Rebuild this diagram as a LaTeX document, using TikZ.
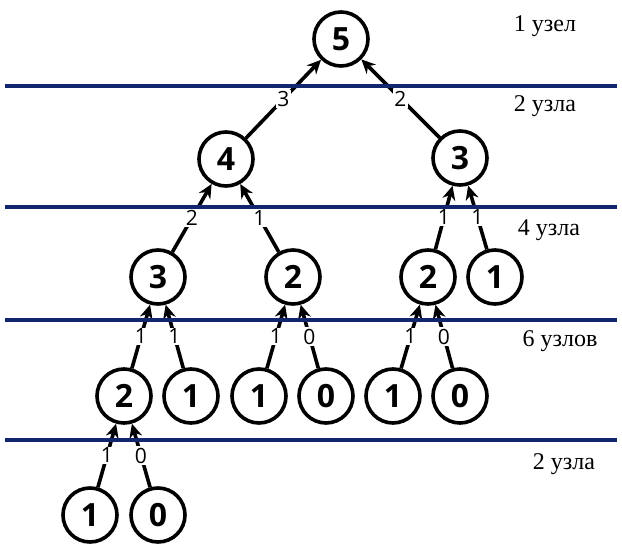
\documentclass[tikz,border=0pt]{standalone}
\usepackage{fontspec}
\setmainfont{Liberation Serif}
\setsansfont{Open Sans}
\usetikzlibrary{arrows.meta}
\definecolor{levelblue}{RGB}{18,38,110}

\begin{document}
\begin{tikzpicture}[x=1pt,y=-1pt,>={Stealth[length=14pt,width=13pt]},
	vert/.style={circle,draw,line width=3.6pt,minimum size=54pt,inner sep=0pt,fill=white,font=\sffamily\bfseries\fontsize{32}{32}\selectfont},
	wt/.style={fill=white,inner sep=1.5pt,font=\sffamily\fontsize{21}{21}\selectfont},
	levelsep/.style={levelblue,line width=4.5pt},
	count/.style={anchor=base,font=\fontsize{24}{24}\selectfont}]
\useasboundingbox (0,0) rectangle (622,553);

\node[vert]	(v_0)	at (341,39)		{5};
\node[vert]	(v_1)	at (226,159)	{4};
\node[vert]	(v_2)	at (460,158)	{3};
\node[vert]	(v_3)	at (158,277)	{3};
\node[vert]	(v_4)	at (293,277)	{2};
\node[vert]	(v_5)	at (428,277)	{2};
\node[vert]	(v_6)	at (495,277)	{1};
\node[vert]	(v_7)	at (124,396)	{2};
\node[vert]	(v_8)	at (191,396)	{1};
\node[vert]	(v_9)	at (259,396)	{1};
\node[vert]	(v_10)	at (326,396)	{0};
\node[vert]	(v_11)	at (393,396)	{1};
\node[vert]	(v_12)	at (460,396)	{0};
\node[vert]	(v_13)	at (90,515)		{1};
\node[vert]	(v_14)	at (158,515)	{0};

\path[->,line width=3.6pt]
(v_1)	edge	node[wt]	{3}	(v_0)
(v_2)	edge	node[wt]	{2}	(v_0)
(v_3)	edge	node[wt]	{2}	(v_1)
(v_4)	edge	node[wt]	{1}	(v_1)
(v_5)	edge	node[wt]	{1}	(v_2)
(v_6)	edge	node[wt]	{1}	(v_2)
(v_7)	edge	node[wt]	{1}	(v_3)
(v_8)	edge	node[wt]	{1}	(v_3)
(v_9)	edge	node[wt]	{1}	(v_4)
(v_10)	edge	node[wt]	{0}	(v_4)
(v_11)	edge	node[wt]	{1}	(v_5)
(v_12)	edge	node[wt]	{0}	(v_5)
(v_13)	edge	node[wt]	{1}	(v_7)
(v_14)	edge	node[wt]	{0}	(v_7)
;

\foreach \y in {86,207,320,440}
	\draw[levelsep] (5,\y) -- (617,\y);

\node[count]	(c_0)	at (545,32)		{1 узел};
\node[count]	(c_1)	at (545,112)	{2 узла};
\node[count]	(c_2)	at (549,236)	{4 узла};
\node[count]	(c_3)	at (560,347)	{6 узлов};
\node[count]	(c_4)	at (564,470)	{2 узла};
\end{tikzpicture}
\end{document}
